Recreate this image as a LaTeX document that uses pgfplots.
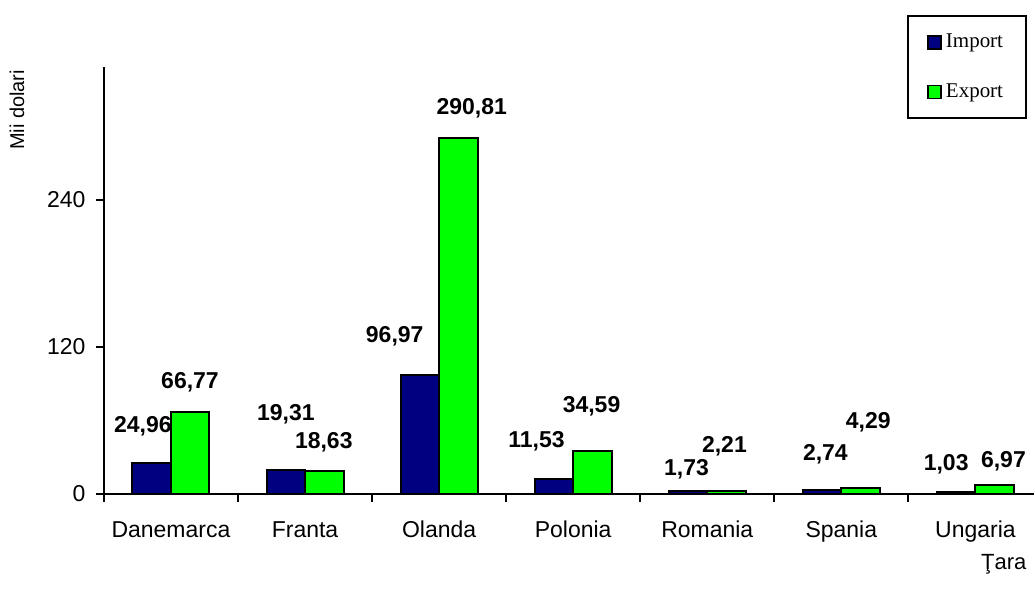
\documentclass[border=0pt]{standalone}
\usepackage{pgfplots}
\pgfplotsset{compat=1.18}
\usepackage{pgfplotstable}
\usepackage{fontspec}
\setmainfont{Liberation Sans}
\newfontfamily\legfont{Liberation Serif}
\definecolor{impc}{RGB}{0,0,128}
\definecolor{expc}{RGB}{0,255,0}

\pgfplotstableread{
x imp
0 24.96
1 19.31
2 96.97
3 11.53
4 1.73
5 2.74
6 1.03
}\importdata
\pgfplotstableread{
x exp
0 66.77
1 18.63
2 290.81
3 34.59
4 2.21
5 4.29
6 6.97
}\exportdata
\pgfplotstableread{
x y lab
-0.209 54.7 24,96
0.142 90.6 66,77
0.857 64.5 19,31
1.140 41.6 18,63
1.669 128.2 96,97
2.243 315.0 290,81
2.727 42.4 11,53
3.137 71.0 34,59
3.845 19.6 1,73
4.128 38.4 2,21
4.881 31.8 2,74
5.201 58.0 4,29
5.782 23.7 1,03
6.209 26.1 6,97
}\labeldata

\begin{document}
\begin{tikzpicture}
\path (0,0) rectangle (517.5pt,294.5pt);
\begin{axis}[
  at={(52pt,47.5pt)}, anchor=south west,
  scale only axis, width=465.5pt, height=213.5pt,
  xmin=-0.5, xmax=6.437, ymin=0, ymax=348.6,
  axis x line=bottom, axis y line=left,
  axis line style={line width=1pt, -},
  tick align=outside,
  major tick length=4.2pt,
  tick style={line width=1pt, black},
  xtick={-0.5,0.5,1.5,2.5,3.5,4.5,5.5},
  xticklabels={},
  extra x ticks={0,1,2,3,4,5,6},
  extra x tick labels={Danemarca,Franta,Olanda,Polonia,Romania,Spania,Ungaria},
  extra x tick style={major tick length=0pt, tick label style={anchor=north, text height=8.5pt, text depth=2.5pt, yshift=-10pt}},
  ytick={0,120,240},
  yticklabel style={xshift=-1.5pt},
  tick label style={font=\fontsize{11.5pt}{13pt}\selectfont},
  /pgf/number format/assume math mode=true,
  xlabel={Ţara},
  xlabel style={at={(axis description cs:0.9675,-0.166)}, anchor=center, font=\fontsize{11pt}{13pt}\selectfont},
  ylabel={Mii dolari},
  ylabel style={at={(axis description cs:-0.0934,0.899)}, anchor=center, font=\fontsize{10pt}{12pt}\selectfont},
  legend style={at={(axis description cs:0.9925,1.1218)}, anchor=north east,
    draw=black, line width=1pt, font=\legfont\fontsize{10.5pt}{12pt}\selectfont,
    inner xsep=9.5pt, inner ysep=7pt, row sep=12.5pt, legend cell align=left},
  legend image code/.code={\draw[line width=0.8pt,#1] (0pt,-3.2pt) rectangle (6.5pt,3.3pt);},
  clip=false,
]
\addplot[ybar, bar width=0.287, bar shift=-0.1435, fill=impc, draw=black, line width=1pt] table[x=x,y=imp]{\importdata};
\addlegendentry{Import}
\addplot[ybar, bar width=0.287, bar shift=0.1435, fill=expc, draw=black, line width=1pt] table[x=x,y=exp]{\exportdata};
\addlegendentry{Export}
\addplot[draw=none, mark=none, forget plot, nodes near coords, point meta=explicit symbolic,
  every node near coord/.style={anchor=center, inner sep=0pt, font=\bfseries\fontsize{11.5pt}{13pt}\selectfont}]
  table[x=x,y=y,meta=lab]{\labeldata};
\end{axis}
\end{tikzpicture}
\end{document}
